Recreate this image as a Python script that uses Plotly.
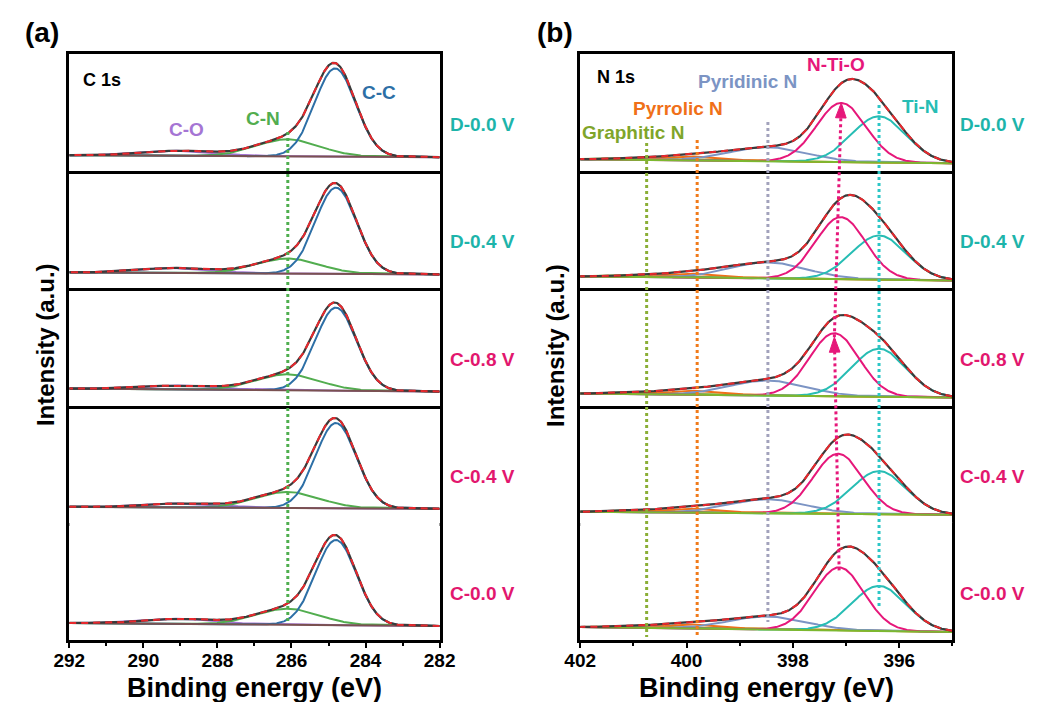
import numpy as np
import plotly.graph_objects as go

W, H = 1045, 702
FONT = "Liberation Sans, Arial, sans-serif"

# ---------------- data ----------------
samples = ["D-0.0 V", "D-0.4 V", "C-0.8 V", "C-0.4 V", "C-0.0 V"]
sample_colors = ["#1db4aa", "#1db4aa", "#e2176e", "#e2176e", "#e2176e"]

# C 1s fitted components: centre (eV), height above background (a.u.), FWHM (eV)
c1s_range = [292, 282]
cc_center = [284.82, 284.80, 284.80, 284.80, 284.80]
cc_height = [88, 86, 83, 85, 85]
cc_fwhm = [1.30, 1.30, 1.30, 1.30, 1.30]
cn_center = [286.10, 286.10, 286.10, 286.10, 286.10]
cn_height = [17, 15, 16, 16, 16]
cn_fwhm = [2.00, 2.00, 2.00, 2.00, 2.00]
co_center = [289.00, 289.10, 289.00, 288.90, 289.00]
co_height = [5, 5, 4, 4, 5]
co_fwhm = [2.30, 2.30, 2.30, 2.30, 2.30]
c_bg_high = [2.0, 2.0, 3.0, 2.0, 3.0]   # background at 292 eV
c_bg_low = [0, 0, 0, 0, 0]              # background at 282 eV

# N 1s fitted components
n1s_range = [402, 395]
ntio_center = [397.09, 397.10, 397.22, 397.15, 397.13]
ntio_height = [59, 62, 63, 60, 63]
ntio_fwhm = [1.10, 1.10, 1.10, 1.10, 1.10]
tin_center = [396.38, 396.38, 396.38, 396.38, 396.38]
tin_height = [46, 44, 48, 43, 45]
tin_fwhm = [1.20, 1.20, 1.20, 1.20, 1.20]
pyd_center = [398.47, 398.47, 398.47, 398.47, 398.47]
pyd_height = [14, 16, 15, 14, 13]
pyd_fwhm = [1.70, 1.70, 1.70, 1.70, 1.70]
pyr_center = [399.80, 399.80, 399.80, 399.80, 399.80]
pyr_height = [4, 4, 4, 4, 4]
pyr_fwhm = [1.20, 1.20, 1.20, 1.20, 1.20]
gra_center = [400.75, 400.75, 400.75, 400.75, 400.75]
gra_height = [2, 2, 2, 2, 2]
gra_fwhm = [1.20, 1.20, 1.20, 1.20, 1.20]
n_bg_high = [4, 4, 4, 3, 5]   # background at 402 eV
n_bg_low = [0, 0, 0, 0, 0]    # background at 395 eV

# ---------------- styling ----------------
COL_CC, COL_CN, COL_CO, COL_CBG = "#2d6fa6", "#52ad4f", "#a575d4", "#7a5151"
COL_NTIO, COL_TIN, COL_PYD, COL_PYR, COL_GRA = "#e6177a", "#27bdb4", "#7c94c4", "#f07018", "#86b52a"
COL_NBG = "#7cb82f"
COL_RAW, COL_FIT = "#3a3a3a", "#e8282d"

C_YR = [-14, 103]
N_YR = [-8, 109]

PANEL_X = [(55, 437), (582, 966)]
ROW_TOP = 54
ROW_H = 117.2


def gauss(x, c, h, fwhm):
    s = fwhm / 2.3548
    return h * np.exp(-0.5 * ((x - c) / s) ** 2)


def background(x, xr, hi, lo):
    return np.interp(x, [min(xr), max(xr)], [lo, hi])


def ax_id(col, row):
    n = col * 5 + row + 1
    return ("" if n == 1 else str(n))


def to_px(col, row, x, y, xr, yr):
    x0, x1 = PANEL_X[col]
    px = x0 + (x - xr[0]) / (xr[1] - xr[0]) * (x1 - x0)
    bottom = ROW_TOP + ROW_H * (row + 1)
    py = bottom - (y - yr[0]) / (yr[1] - yr[0]) * ROW_H
    return px, py


fig = go.Figure()
layout = {}

ec = np.linspace(282, 292, 600)
en = np.linspace(395, 402, 600)

for col in range(2):
    for row in range(5):
        aid = ax_id(col, row)
        xa, ya = "x" + aid, "y" + aid
        if col == 0:
            bg = background(ec, c1s_range, c_bg_high[row], c_bg_low[row])
            comps = [
                (gauss(ec, co_center[row], co_height[row], co_fwhm[row]), COL_CO),
                (gauss(ec, cn_center[row], cn_height[row], cn_fwhm[row]), COL_CN),
                (gauss(ec, cc_center[row], cc_height[row], cc_fwhm[row]), COL_CC),
            ]
            xs, bgcol, xr, yr = ec, COL_CBG, c1s_range, C_YR
        else:
            bg = background(en, n1s_range, n_bg_high[row], n_bg_low[row])
            comps = [
                (gauss(en, gra_center[row], gra_height[row], gra_fwhm[row]), COL_GRA),
                (gauss(en, pyr_center[row], pyr_height[row], pyr_fwhm[row]), COL_PYR),
                (gauss(en, pyd_center[row], pyd_height[row], pyd_fwhm[row]), COL_PYD),
                (gauss(en, tin_center[row], tin_height[row], tin_fwhm[row]), COL_TIN),
                (gauss(en, ntio_center[row], ntio_height[row], ntio_fwhm[row]), COL_NTIO),
            ]
            xs, bgcol, xr, yr = en, COL_NBG, n1s_range, N_YR

        total = bg + sum(c for c, _ in comps)
        for comp, colr in comps:
            fig.add_trace(go.Scatter(x=xs, y=bg + comp, mode="lines",
                                     line=dict(color=colr, width=2),
                                     xaxis=xa, yaxis=ya, showlegend=False, hoverinfo="skip"))
        fig.add_trace(go.Scatter(x=xs, y=bg, mode="lines", line=dict(color=bgcol, width=2),
                                 xaxis=xa, yaxis=ya, showlegend=False, hoverinfo="skip"))
        fig.add_trace(go.Scatter(x=xs, y=total, mode="lines", line=dict(color=COL_RAW, width=2.2),
                                 xaxis=xa, yaxis=ya, showlegend=False, hoverinfo="skip"))
        fig.add_trace(go.Scatter(x=xs, y=total, mode="lines",
                                 line=dict(color=COL_FIT, width=2, dash="7px,5px"),
                                 xaxis=xa, yaxis=ya, showlegend=False, hoverinfo="skip"))

        x0, x1 = PANEL_X[col]
        top = ROW_TOP + ROW_H * row
        bottom = top + ROW_H
        is_bottom = row == 4
        # each row draws its bottom edge; only the first row also draws the top edge,
        # so the stacked frames share a single separator line
        xaxis = dict(domain=[x0 / W, x1 / W], range=xr, anchor=ya,
                     showline=True, mirror=(row == 0), linecolor="black", linewidth=2.5,
                     showgrid=False, zeroline=False,
                     showticklabels=is_bottom, ticks="outside" if is_bottom else "",
                     tick0=0, dtick=2, ticklen=5, tickwidth=2, tickcolor="black",
                     ticklabelstandoff=-4,
                     tickfont=dict(family=FONT, size=19, color="black", weight="bold"))
        if is_bottom:
            xaxis["minor"] = dict(dtick=1, ticks="outside", ticklen=3, tickwidth=1.5,
                                  tickcolor="black")
        layout["xaxis" + aid] = xaxis
        layout["yaxis" + aid] = dict(domain=[1 - bottom / H, 1 - top / H], range=yr, anchor=xa,
                                     showline=True, mirror=True, linecolor="black", linewidth=2.5,
                                     showgrid=False, zeroline=False, showticklabels=False, ticks="")

fig.update_layout(**layout)

shapes = []
annotations = []


def txt(px, py, text, color="black", size=19, xanchor="center"):
    annotations.append(dict(x=px / W, y=1 - py / H, xref="paper", yref="paper", text="<b>" + text + "</b>",
                            showarrow=False, xanchor=xanchor, yanchor="middle",
                            font=dict(family=FONT, size=size, color=color)))


def vguide(col, xval, py_top, py_bottom, color):
    aid = ax_id(col, 4)
    shapes.append(dict(type="line", xref="x" + aid, yref="paper", x0=xval, x1=xval,
                       y0=1 - py_top / H, y1=1 - py_bottom / H, layer="above",
                       line=dict(color=color, width=3, dash="dot")))


# guide lines at the component binding energies
vguide(0, cn_center[0], 132, 622, "#4fae4f")
vguide(1, gra_center[0], 143, 637, "#8aae36")
vguide(1, pyr_center[0], 140, 636, "#f07a1a")
vguide(1, pyd_center[0], 122, 622, "#a2a2bc")
vguide(1, tin_center[0], 105, 607, "#2cc6c6")


def arrow(p_from, p_to, color):
    (xa, ya), (xb, yb) = p_from, p_to
    shapes.append(dict(type="line", xref="paper", yref="paper",
                       x0=xa / W, y0=1 - ya / H, x1=xb / W, y1=1 - yb / H, layer="above",
                       line=dict(color=color, width=3, dash="dot")))
    dx, dy = xb - xa, yb - ya
    L = np.hypot(dx, dy)
    ux, uy = dx / L, dy / L
    bx, by = xb - ux * 15, yb - uy * 15
    nx, ny = -uy, ux
    pts = [(xb, yb), (bx + nx * 5.5, by + ny * 5.5), (bx - nx * 5.5, by - ny * 5.5)]
    path = "M " + " L ".join(f"{p[0] / W:.5f},{1 - p[1] / H:.5f}" for p in pts) + " Z"
    shapes.append(dict(type="path", xref="paper", yref="paper", path=path, layer="above",
                       fillcolor=color, line=dict(color=color, width=1)))


def ntio_peak_px(row):
    c = ntio_center[row]
    bgv = float(background(np.array([c]), n1s_range, n_bg_high[row], n_bg_low[row])[0])
    return to_px(1, row, c, bgv + ntio_height[row], n1s_range, N_YR)


p_c00 = ntio_peak_px(4)
p_c08 = ntio_peak_px(2)
p_d00 = ntio_peak_px(0)
arrow((p_c00[0], p_c00[1] + 3), (p_c08[0], p_c08[1] + 4), COL_NTIO)
arrow((p_c08[0], p_c08[1] + 4), p_d00, COL_NTIO)

# panel tags
txt(27, 32, "(a)", size=28)
txt(556, 32, "(b)", size=28)

# core-level and component labels
txt(67, 80, "C 1s", size=18, xanchor="left")
txt(176, 130, "C-O", COL_CO)
txt(255, 118, "C-N", COL_CN)
txt(374, 93, "C-C", COL_CC)
txt(597, 77, "N 1s", size=18, xanchor="left")
txt(636, 132, "Graphitic N", "#7fa52a")
txt(683, 108, "Pyrrolic N", COL_PYR)
txt(755, 82, "Pyridinic N", COL_PYD)
txt(846, 65, "N-Ti-O", COL_NTIO)
txt(933, 107, "Ti-N", COL_TIN)

# sample labels
for row, (s, sc) in enumerate(zip(samples, sample_colors)):
    py = ROW_TOP + ROW_H * row + ROW_H / 2 + 12
    txt(481, py, s, sc)
    txt(1007, py, s, sc)

# axis titles
txt(246, 688, "Binding energy (eV)", size=27)
txt(774, 688, "Binding energy (eV)", size=27)
for px in (30, 556):
    annotations.append(dict(x=px / W, y=1 - 345 / H, xref="paper", yref="paper",
                            text="<b>Intensity (a.u.)</b>", textangle=-90, showarrow=False,
                            xanchor="center", yanchor="middle",
                            font=dict(family=FONT, size=24, color="black")))

fig.update_layout(width=W, height=H, margin=dict(l=0, r=0, t=0, b=0),
                  paper_bgcolor="white", plot_bgcolor="white",
                  shapes=shapes, annotations=annotations, showlegend=False)

fig.write_html("out.html")
